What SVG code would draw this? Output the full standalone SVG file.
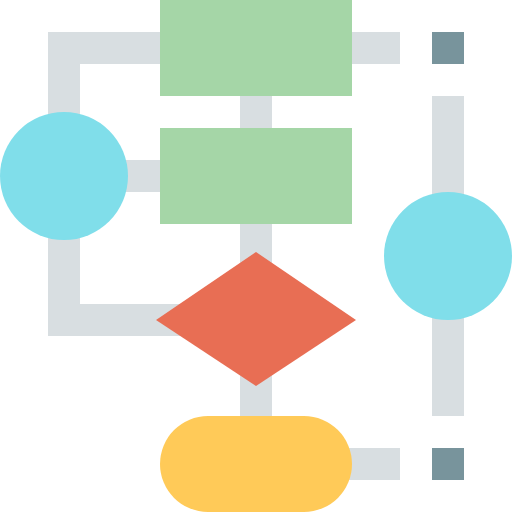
<svg xmlns="http://www.w3.org/2000/svg" width="512" height="512" viewBox="0 0 512 512">
<style>
.c{fill:#d8dee1}
.t{fill:#78949c}
.g{fill:#a5d6a7}
.b{fill:#80deea}
</style>
<g id="connectors">
<rect class="c" x="48" y="32" width="32" height="304"/>
<rect class="c" x="48" y="32" width="112" height="32"/>
<rect class="c" x="48" y="304" width="160" height="32"/>
<rect class="c" x="352" y="32" width="48" height="32"/>
<rect class="c" x="240" y="96" width="32" height="32"/>
<rect class="c" x="120" y="160" width="40" height="32"/>
<rect class="c" x="240" y="224" width="32" height="200"/>
<rect class="c" x="432" y="96" width="32" height="320"/>
<rect class="c" x="340" y="448" width="60" height="32"/>
</g>
<g id="term1"><rect class="t" x="432" y="32" width="32" height="32"/></g>
<g id="term2"><rect class="t" x="432" y="448" width="32" height="32"/></g>
<g id="rect1"><rect class="g" x="160" y="0" width="192" height="96"/></g>
<g id="rect2"><rect class="g" x="160" y="128" width="192" height="96"/></g>
<g id="circle1"><circle class="b" cx="64" cy="176" r="64"/></g>
<g id="circle2"><circle class="b" cx="448" cy="256" r="64"/></g>
<g id="diamond"><polygon fill="#e86e54" points="256,252 356,320 256,386 156,320"/></g>
<g id="pill"><rect fill="#ffca58" x="160" y="416" width="192" height="96" rx="48"/></g>
</svg>
